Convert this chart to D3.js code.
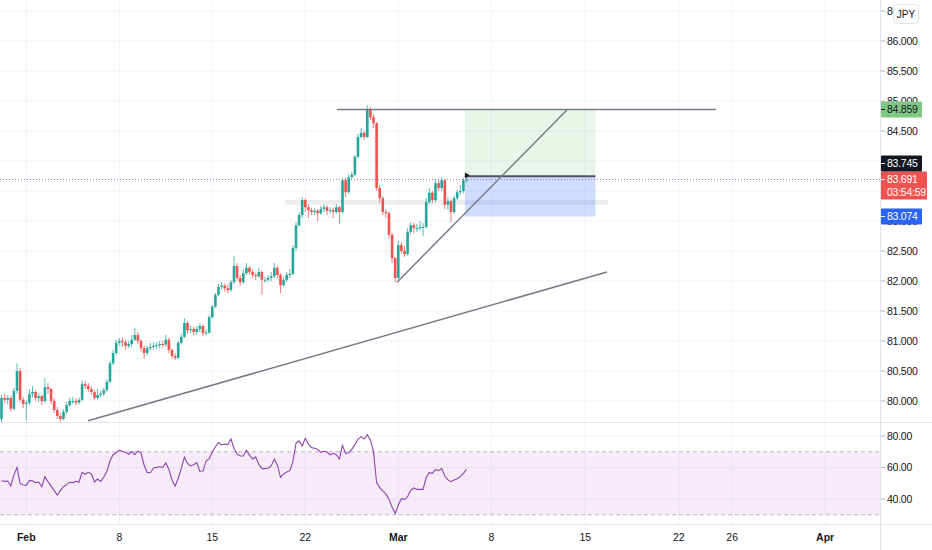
<!DOCTYPE html>
<html><head><meta charset="utf-8">
<script src="https://cdn.jsdelivr.net/npm/d3@7"></script>
<style>body{margin:0;background:#fff;} svg{display:block;font-family:"Liberation Sans",Arial,sans-serif;}</style>
</head><body><svg id="c" width="932" height="550"></svg>
<script>
// ---------- DATA (4H candles, bar index 0..150) ----------
const firstOpen = 79.70;
const closes = [80.05,80.02,80.05,79.87,80.17,80.50,80.02,79.95,79.97,80.12,
80.15,80.05,80.08,80.00,80.23,80.20,80.00,79.85,79.75,79.70,
79.82,79.93,80.00,80.00,79.97,80.02,80.28,80.25,80.20,80.15,
80.05,80.10,80.12,80.18,80.32,80.63,80.80,80.97,81.00,80.98,
80.92,80.95,81.02,81.10,81.00,80.88,80.80,80.88,80.90,80.92,
80.93,80.95,80.94,81.02,80.85,80.75,80.72,80.97,81.07,81.30,
81.18,81.20,81.15,81.20,81.25,81.13,81.14,81.40,81.57,81.77,
81.90,81.92,81.88,81.85,81.98,82.25,82.05,81.98,82.13,82.22,
82.15,82.10,82.08,82.15,82.02,82.02,82.05,82.08,82.22,82.10,
81.93,82.02,82.10,82.12,82.55,82.93,83.10,83.35,83.23,83.18,
83.15,83.17,83.13,83.20,83.23,83.17,83.18,83.15,83.23,83.15,
83.68,83.48,83.73,83.77,84.07,84.40,84.47,84.40,84.85,84.73,
84.63,83.55,83.38,83.15,83.13,82.77,82.38,82.05,82.60,82.50,
82.45,82.82,82.93,82.88,82.88,82.90,82.90,83.32,83.47,83.35,
83.63,83.55,83.68,83.27,83.33,83.15,83.38,83.48,83.50,83.68,83.69];
const highs = [80.10,80.12,80.10,80.08,80.22,80.63,80.55,80.07,80.02,80.20,
80.25,80.18,80.13,80.10,80.38,80.30,80.22,80.05,79.90,79.80,
79.86,79.98,80.05,80.07,80.05,80.06,80.33,80.33,80.30,80.24,
80.18,80.20,80.17,80.22,80.36,80.67,80.85,81.02,81.05,81.06,
81.02,81.00,81.10,81.22,81.15,81.03,80.92,80.92,80.97,80.98,
80.98,81.00,81.00,81.10,81.06,80.88,80.80,81.00,81.12,81.38,
81.33,81.25,81.24,81.25,81.30,81.28,81.20,81.43,81.60,81.80,
81.95,81.98,81.96,81.94,82.02,82.42,82.30,82.10,82.20,82.30,
82.25,82.20,82.14,82.22,82.18,82.07,82.10,82.15,82.30,82.25,
82.13,82.06,82.15,82.20,82.60,82.98,83.15,83.40,83.38,83.28,
83.22,83.22,83.20,83.25,83.28,83.26,83.23,83.22,83.28,83.25,
83.72,83.72,83.78,83.82,84.10,84.45,84.55,84.50,84.93,84.90,
84.78,84.65,83.60,83.42,83.20,83.16,82.80,82.40,82.67,82.65,
82.58,82.88,82.98,82.97,82.95,83.00,82.97,83.38,83.55,83.50,
83.70,83.68,83.73,83.70,83.40,83.36,83.42,83.52,83.60,83.72,83.76];
const lows = [79.65,79.97,79.95,79.82,79.85,80.12,79.98,79.88,79.68,79.93,
80.06,80.00,79.98,79.93,79.97,80.12,79.95,79.80,79.70,79.66,
79.68,79.78,79.90,79.95,79.93,79.94,80.00,80.20,80.15,80.10,
80.02,80.03,80.06,80.08,80.15,80.30,80.60,80.76,80.92,80.90,
80.85,80.88,80.90,81.00,80.95,80.82,80.70,80.76,80.84,80.86,
80.87,80.88,80.89,80.90,80.80,80.70,80.68,80.70,80.94,81.05,
81.12,81.13,81.10,81.10,81.15,81.08,81.10,81.12,81.37,81.55,
81.75,81.86,81.82,81.80,81.82,81.95,82.00,81.92,81.95,82.10,
82.10,82.05,82.02,82.05,81.77,81.97,81.98,82.00,82.05,82.05,
81.80,81.90,81.98,82.05,82.10,82.50,82.90,83.05,83.15,83.05,
83.10,83.10,83.00,83.10,83.15,83.10,83.12,83.05,83.12,82.95,
83.12,83.40,83.45,83.70,83.75,84.05,84.38,84.35,84.38,84.68,
84.55,83.50,83.30,83.10,83.05,82.70,82.30,81.98,82.02,82.45,
82.40,82.42,82.78,82.80,82.82,82.84,82.75,82.88,83.28,83.30,
83.32,83.50,83.50,83.20,83.18,82.98,83.12,83.35,83.44,83.46,83.64];
const rsi = [51.6,51.2,51.4,48.2,55.2,60.1,49.9,48.9,48.7,51.8,
51.6,50.4,50.8,47.8,54.2,51.0,48.2,45.3,42.5,45.3,
47.8,49.1,50.6,50.4,51.2,50.8,56.9,55.7,56.9,55.9,
50.8,52.7,51.2,53.8,57.6,64.3,68.1,69.4,71.1,70.3,
69.6,68.4,70.1,68.1,70.5,69.2,61.6,56.9,56.7,59.5,
60.1,60.5,60.1,62.9,58.8,52.1,48.2,53.1,59.5,66.5,
62.6,61.0,61.8,63.1,57.6,57.8,64.1,65.6,69.8,73.2,
75.8,74.3,74.9,74.5,78.1,72.2,68.6,67.3,67.3,70.9,
67.9,65.4,66.7,62.0,59.3,59.3,59.7,61.0,65.2,61.6,
53.8,55.9,57.1,58.0,63.7,75.3,77.0,73.7,78.5,74.9,
72.6,72.2,71.5,69.6,70.3,69.8,68.1,69.0,68.1,65.4,
74.1,69.0,69.4,71.5,74.5,77.9,79.6,78.1,80.8,77.5,
70.1,50.4,47.2,45.1,43.2,39.8,34.7,30.9,36.2,40.2,
39.8,41.5,45.7,47.0,46.1,46.1,46.1,53.8,56.7,56.3,
58.8,58.0,59.3,54.6,52.1,51.0,52.1,52.9,54.2,56.3,58.8];
const timeTickBars = [8, 38, 68, 98, 128, 158, 188.3, 218.5, 235.7, 265.7];
const timeTickLabels = ["Feb","8","15","22","Mar","8","15","22","26","Apr"];
const monthLabels = ["Feb","Mar","Apr"];
const priceTicks = [80.0,80.5,81.0,81.5,82.0,82.5,83.0,83.5,84.0,84.5,85.0,85.5,86.0,86.5];
const rsiTicks = [40,60,80];
const rsiBands = [30,70];
const targetPrice = 84.859, entryPrice = 83.745, stopPrice = 83.074, lastPrice = 83.691;
const countdown = "03:54:59";
const currency = "JPY";
const positionBars = [149.5, 191.6];
const levelLine = {bars:[108.2, 230.5], price:84.859};
const trendLines = [
  {b0:127.6, p0:81.98, b1:182.4, p1:84.85},
  {b0:27.9, p0:79.67, b1:195.3, p1:82.15}
];
const zoneBand = {bars:[91.5, 195.5], lo:83.27, hi:83.35};

// ---------- LAYOUT ----------
const W = 932, H = 550, plotR = 880;
const mainBottom = 422, rsiBottom = 524;
const FS = 10.5, LS = "-0.25px";
const svg = d3.select("#c");
const x = d3.scaleLinear().domain([0, 150]).range([1.5, 466.5]);
const y = d3.scaleLinear().domain([80, 86]).range([401, 41]);
const yr = d3.scaleLinear().domain([40, 80]).range([499, 436]);
const fmt3 = d3.format(".3f"), fmt2 = d3.format(".2f");

svg.append("rect").attr("width", W).attr("height", H).attr("fill", "#fff");
const defs = svg.append("defs");
defs.append("clipPath").attr("id","cm").append("rect").attr("x",0).attr("y",0).attr("width",plotR).attr("height",mainBottom);
defs.append("clipPath").attr("id","cr").append("rect").attr("x",0).attr("y",mainBottom+1).attr("width",plotR).attr("height",rsiBottom-mainBottom-1);

// grid
const grid = svg.append("g");
grid.selectAll(".vg").data(timeTickBars).join("line")
  .attr("x1", d=>x(d)).attr("x2", d=>x(d)).attr("y1",0).attr("y2",rsiBottom)
  .attr("stroke","#f0f3fa").attr("stroke-width",1);
grid.selectAll(".hg").data(priceTicks).join("line")
  .attr("x1",0).attr("x2",plotR).attr("y1",d=>y(d)).attr("y2",d=>y(d))
  .attr("stroke","#f0f3fa").attr("stroke-width",1);
grid.selectAll(".hr").data(rsiTicks).join("line")
  .attr("x1",0).attr("x2",plotR).attr("y1",d=>yr(d)).attr("y2",d=>yr(d))
  .attr("stroke","#f0f3fa").attr("stroke-width",1);

// main panel
const main = svg.append("g").attr("clip-path","url(#cm)");
main.append("rect").attr("x", x(zoneBand.bars[0])).attr("width", x(zoneBand.bars[1])-x(zoneBand.bars[0]))
  .attr("y", y(zoneBand.hi)).attr("height", y(zoneBand.lo)-y(zoneBand.hi)).attr("fill","rgba(120,123,134,0.13)");
main.append("rect").attr("x", x(positionBars[0])).attr("width", x(positionBars[1])-x(positionBars[0]))
  .attr("y", y(targetPrice)).attr("height", y(entryPrice)-y(targetPrice)).attr("fill","rgba(76,175,80,0.13)");
main.append("rect").attr("x", x(positionBars[0])).attr("width", x(positionBars[1])-x(positionBars[0]))
  .attr("y", y(entryPrice)).attr("height", y(stopPrice)-y(entryPrice)).attr("fill","rgba(41,98,255,0.22)");
main.append("line").attr("x1",0).attr("x2",plotR).attr("y1",y(lastPrice)).attr("y2",y(lastPrice))
  .attr("stroke","#9a6fb0").attr("stroke-width",1).attr("stroke-dasharray","1,2");

// candles
const bars = closes.map((c,i)=>({i, o: i===0?firstOpen:closes[i-1], c, h: highs[i], l: lows[i]}));
const cg = main.append("g");
cg.selectAll(".w").data(bars).join("line")
  .attr("x1",d=>x(d.i)).attr("x2",d=>x(d.i)).attr("y1",d=>y(d.h)).attr("y2",d=>y(d.l))
  .attr("stroke",d=>d.c>=d.o?"#26a69a":"#ef5350").attr("stroke-width",1).attr("opacity",0.75);
cg.selectAll(".b").data(bars).join("rect")
  .attr("x",d=>x(d.i)-1.3).attr("width",2.6)
  .attr("y",d=>y(Math.max(d.o,d.c))).attr("height",d=>Math.max(1, Math.abs(y(d.o)-y(d.c))))
  .attr("fill",d=>d.c>=d.o?"#26a69a":"#ef5350");

main.append("line").attr("x1",x(positionBars[0])).attr("x2",x(positionBars[1]))
  .attr("y1",y(entryPrice)).attr("y2",y(entryPrice)).attr("stroke","#50535e").attr("stroke-width",2);
main.append("line").attr("x1",x(levelLine.bars[0])).attr("x2",x(levelLine.bars[1]))
  .attr("y1",y(levelLine.price)).attr("y2",y(levelLine.price)).attr("stroke","#787b86").attr("stroke-width",1.5);
main.selectAll(".tl").data(trendLines).join("line")
  .attr("x1",d=>x(d.b0)).attr("y1",d=>y(d.p0)).attr("x2",d=>x(d.b1)).attr("y2",d=>y(d.p1))
  .attr("stroke","#787b86").attr("stroke-width",1.5);
main.append("path").attr("d", d3.symbol(d3.symbolTriangle, 14)())
  .attr("transform",`translate(${x(150)},${y(entryPrice)-1}) rotate(-30)`).attr("fill","#131722");

// RSI panel
const rg = svg.append("g").attr("clip-path","url(#cr)");
rg.append("rect").attr("x",0).attr("width",plotR).attr("y",yr(rsiBands[1])).attr("height",yr(rsiBands[0])-yr(rsiBands[1]))
  .attr("fill","rgba(156,39,176,0.09)");
rg.selectAll(".band").data(rsiBands).join("line")
  .attr("x1",0).attr("x2",plotR).attr("y1",d=>yr(d)).attr("y2",d=>yr(d))
  .attr("stroke","#c9a9d8").attr("stroke-width",1).attr("stroke-dasharray","4,3");
rg.append("path").datum(rsi)
  .attr("d", d3.line().x((d,i)=>x(i)).y(d=>yr(d)))
  .attr("fill","none").attr("stroke","#8e44ad").attr("stroke-width",1.1);

// separators
svg.append("line").attr("x1",plotR+0.5).attr("x2",plotR+0.5).attr("y1",0).attr("y2",H).attr("stroke","#e0e3eb");
svg.append("line").attr("x1",0).attr("x2",W).attr("y1",mainBottom+0.5).attr("y2",mainBottom+0.5).attr("stroke","#e0e3eb");
svg.append("line").attr("x1",0).attr("x2",W).attr("y1",rsiBottom+0.5).attr("y2",rsiBottom+0.5).attr("stroke","#e0e3eb");

// price labels geometry (computed first so covered ticks can be skipped)
const labelSpecs = [];
const greenTop = y(targetPrice)-8;
const redTop = y(lastPrice)-8;
const blackCy = Math.min(y(entryPrice), redTop-8);
const blueTop = y(stopPrice)-8;
const covered = [[blackCy-8, redTop+28]];
const visibleTicks = priceTicks.filter(d => !covered.some(([a,b]) => y(d) > a && y(d) < b));

// price axis
const ax = svg.append("g").attr("font-size",FS).attr("letter-spacing",LS).attr("fill","#131722");
ax.selectAll(".pt").data(visibleTicks).join("g").attr("transform",d=>`translate(${plotR},${y(d)})`).each(function(d){
  const g = d3.select(this);
  g.append("line").attr("x1",1).attr("x2",5).attr("stroke","#b2b5be");
  g.append("text").attr("x",7).attr("dy","0.35em").text(fmt3(d));
});
ax.selectAll(".rt").data(rsiTicks).join("g").attr("transform",d=>`translate(${plotR},${yr(d)})`).each(function(d){
  const g = d3.select(this);
  g.append("line").attr("x1",1).attr("x2",5).attr("stroke","#b2b5be");
  g.append("text").attr("x",7).attr("dy","0.35em").text(fmt2(d));
});

function priceLabel(cy, top, bg, fg, lines, w){
  const h = lines.length===1 ? 16 : 28;
  const g = svg.append("g");
  g.append("rect").attr("x",plotR+1).attr("y",top).attr("width",w).attr("height",h).attr("fill",bg).attr("rx",1);
  g.append("line").attr("x1",plotR+1).attr("x2",plotR+5).attr("y1",cy).attr("y2",cy).attr("stroke",fg);
  lines.forEach((t,k)=>g.append("text").attr("x",plotR+7).attr("y",top+8+k*13).attr("dy","0.35em")
    .attr("font-size",FS).attr("letter-spacing",LS).attr("fill",fg).text(t));
}
priceLabel(y(targetPrice), greenTop, "#81c784", "#131722", [fmt3(targetPrice)], 41);
priceLabel(y(lastPrice), redTop, "#ef5350", "#ffffff", [fmt3(lastPrice), countdown], 46);
priceLabel(blackCy, blackCy-8, "#131722", "#ffffff", [fmt3(entryPrice)], 41);
priceLabel(y(stopPrice), blueTop, "#2962ff", "#ffffff", [fmt3(stopPrice)], 41);

// currency button
svg.append("rect").attr("x",893.5).attr("y",4.5).attr("width",25).attr("height",19).attr("rx",4)
  .attr("fill","#fff").attr("stroke","#e0e3eb");
svg.append("text").attr("x",906).attr("y",14).attr("dy","0.35em").attr("text-anchor","middle")
  .attr("font-size",10).attr("fill","#131722").text(currency);

// time axis
svg.append("g").selectAll("text").data(timeTickBars).join("text")
  .attr("x",d=>x(d)).attr("y",537).attr("dy","0.35em").attr("text-anchor","middle")
  .attr("font-size",FS).attr("fill","#131722")
  .attr("font-weight",(d,i)=>monthLabels.includes(timeTickLabels[i])?"bold":"normal")
  .text((d,i)=>timeTickLabels[i]);
</script></body></html>
